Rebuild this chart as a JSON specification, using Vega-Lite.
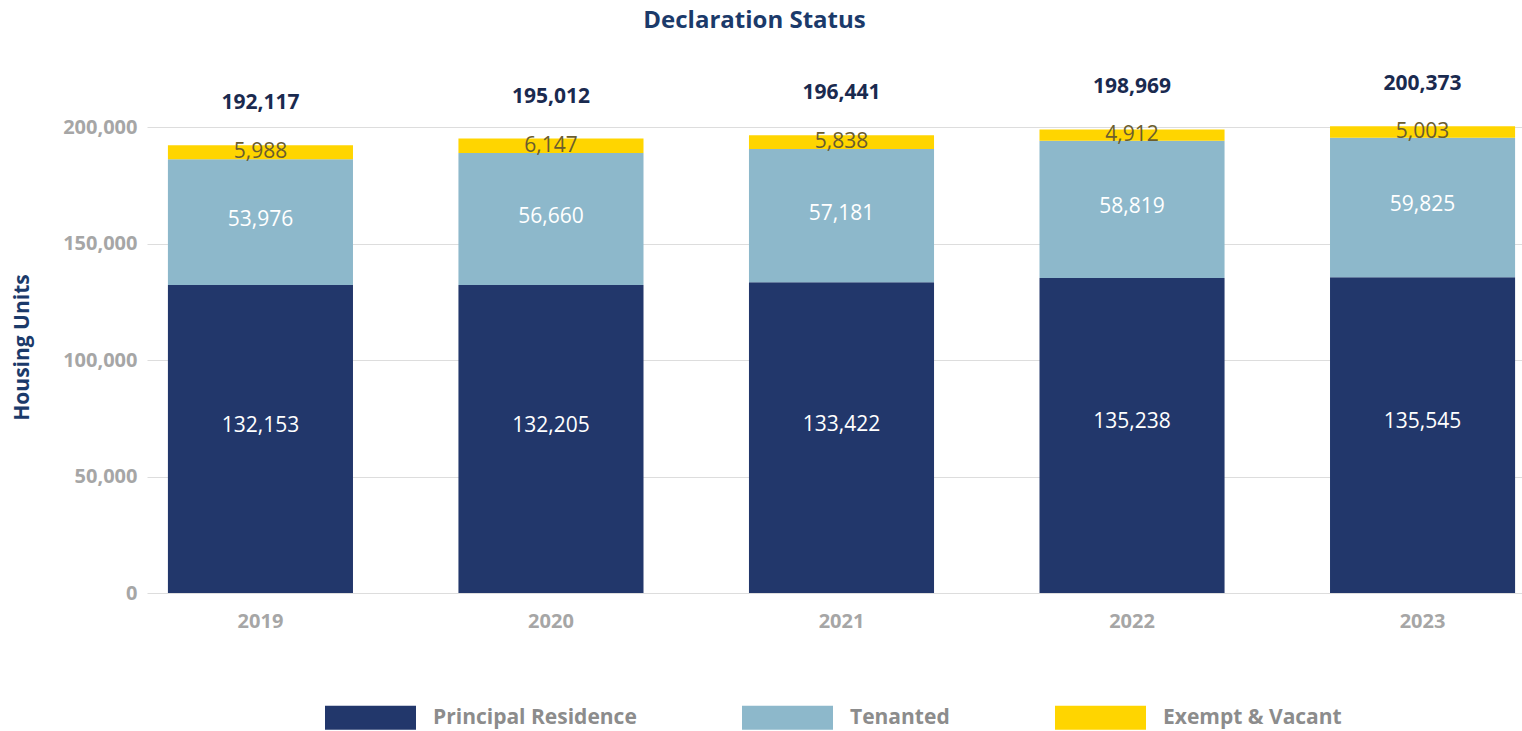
{
  "$schema": "https://vega.github.io/schema/vega-lite/v6.json",
  "autosize": {"type": "none"},
  "padding": {"left": 147, "top": 127, "right": 0, "bottom": 138},
  "width": 1375,
  "height": 466,
  "background": "white",
  "config": {"font": "Open Sans", "view": {"stroke": null}},
  "title": {"text": "Declaration Status", "fontSize": 24, "fontWeight": "bold", "color": "#1b3a6a", "anchor": "middle", "frame": "group", "dx": -80, "offset": 40},
  "data": {"values": [
    {"year": "2019", "status": "Principal Residence", "value": 132153},
    {"year": "2019", "status": "Tenanted", "value": 53976},
    {"year": "2019", "status": "Exempt & Vacant", "value": 5988},
    {"year": "2020", "status": "Principal Residence", "value": 132205},
    {"year": "2020", "status": "Tenanted", "value": 56660},
    {"year": "2020", "status": "Exempt & Vacant", "value": 6147},
    {"year": "2021", "status": "Principal Residence", "value": 133422},
    {"year": "2021", "status": "Tenanted", "value": 57181},
    {"year": "2021", "status": "Exempt & Vacant", "value": 5838},
    {"year": "2022", "status": "Principal Residence", "value": 135238},
    {"year": "2022", "status": "Tenanted", "value": 58819},
    {"year": "2022", "status": "Exempt & Vacant", "value": 4912},
    {"year": "2023", "status": "Principal Residence", "value": 135545},
    {"year": "2023", "status": "Tenanted", "value": 59825},
    {"year": "2023", "status": "Exempt & Vacant", "value": 5003}
  ]},
  "transform": [
    {"calculate": "indexof(['Principal Residence','Tenanted','Exempt & Vacant'], datum.status)", "as": "ord"},
    {"stack": "value", "groupby": ["year"], "sort": [{"field": "ord", "order": "ascending"}], "as": ["s0", "s1"]},
    {"calculate": "(datum.s0 + datum.s1) / 2", "as": "mid"}
  ],
  "encoding": {
    "x": {
      "field": "year", "type": "nominal", "title": null,
      "scale": {"range": [0, 1389], "paddingInner": 0.363, "paddingOuter": 0.072},
      "axis": {"labelAngle": 0, "labelColor": "#a6a6a6", "labelFontWeight": "bold", "labelFontSize": 20, "ticks": false, "domain": false, "labelPadding": 18, "grid": false}
    }
  },
  "layer": [
    {
      "mark": {"type": "bar"},
      "encoding": {
        "y": {
          "field": "s1", "type": "quantitative",
          "scale": {"domain": [0, 200000]},
          "title": "Housing Units",
          "axis": {"values": [0, 50000, 100000, 150000, 200000], "format": ",.0f", "labelColor": "#a6a6a6", "labelFontWeight": "bold", "labelFontSize": 20, "ticks": false, "domain": false, "labelPadding": 10, "gridColor": "#dddddd", "titleColor": "#1b3a6a", "titleFontSize": 21, "titleFontWeight": "bold", "titleX": -125, "titleY": 220, "titleAngle": -90, "titleAlign": "center", "titleBaseline": "middle"}
        },
        "y2": {"field": "s0"},
        "color": {
          "field": "status", "type": "nominal",
          "scale": {"domain": ["Principal Residence", "Tenanted", "Exempt & Vacant"], "range": ["#22376b", "#8db8cb", "#ffd500"]},
          "legend": {"title": null, "orient": "none", "direction": "horizontal", "legendX": 178, "legendY": 545, "padding": 0, "symbolType": "M-1,-0.264H1V0.264H-1Z", "symbolSize": 8281, "symbolStrokeWidth": 0, "symbolOpacity": 1, "labelFontSize": 21, "labelFontWeight": "bold", "labelColor": "#8c8c8c", "labelOffset": 17, "labelLimit": 400, "columnPadding": 105}
        }
      }
    },
    {
      "transform": [{"filter": "datum.status === 'Principal Residence'"}],
      "mark": {"type": "text", "color": "white", "fontSize": 21, "dy": -13, "baseline": "middle"},
      "encoding": {
        "y": {"field": "mid", "type": "quantitative", "title": "Housing Units",
          "axis": {"values": [0, 50000, 100000, 150000, 200000], "format": ",.0f", "labelColor": "#a6a6a6", "labelFontWeight": "bold", "labelFontSize": 20, "ticks": false, "domain": false, "labelPadding": 10, "gridColor": "#dddddd", "titleColor": "#1b3a6a", "titleFontSize": 21, "titleFontWeight": "bold", "titleX": -125, "titleY": 220, "titleAngle": -90, "titleAlign": "center", "titleBaseline": "middle"}},
        "text": {"field": "value", "type": "quantitative", "format": ","}}
    },
    {
      "transform": [{"filter": "datum.status === 'Tenanted'"}],
      "mark": {"type": "text", "color": "white", "fontSize": 21, "dy": -2, "baseline": "middle"},
      "encoding": {
        "y": {"field": "mid", "type": "quantitative", "title": "Housing Units",
          "axis": {"values": [0, 50000, 100000, 150000, 200000], "format": ",.0f", "labelColor": "#a6a6a6", "labelFontWeight": "bold", "labelFontSize": 20, "ticks": false, "domain": false, "labelPadding": 10, "gridColor": "#dddddd", "titleColor": "#1b3a6a", "titleFontSize": 21, "titleFontWeight": "bold", "titleX": -125, "titleY": 220, "titleAngle": -90, "titleAlign": "center", "titleBaseline": "middle"}},
        "text": {"field": "value", "type": "quantitative", "format": ","}}
    },
    {
      "transform": [{"filter": "datum.status === 'Exempt & Vacant'"}],
      "mark": {"type": "text", "color": "#6b5d2e", "fontSize": 21, "dy": 0, "baseline": "middle"},
      "encoding": {
        "y": {"field": "mid", "type": "quantitative", "title": "Housing Units",
          "axis": {"values": [0, 50000, 100000, 150000, 200000], "format": ",.0f", "labelColor": "#a6a6a6", "labelFontWeight": "bold", "labelFontSize": 20, "ticks": false, "domain": false, "labelPadding": 10, "gridColor": "#dddddd", "titleColor": "#1b3a6a", "titleFontSize": 21, "titleFontWeight": "bold", "titleX": -125, "titleY": 220, "titleAngle": -90, "titleAlign": "center", "titleBaseline": "middle"}},
        "text": {"field": "value", "type": "quantitative", "format": ","}}
    },
    {
      "transform": [{"aggregate": [{"op": "sum", "field": "value", "as": "total"}], "groupby": ["year"]}],
      "mark": {"type": "text", "color": "#1a2a4f", "fontSize": 21, "fontWeight": "bold", "dy": -42, "baseline": "middle"},
      "encoding": {
        "y": {"field": "total", "type": "quantitative", "title": "Housing Units",
          "axis": {"values": [0, 50000, 100000, 150000, 200000], "format": ",.0f", "labelColor": "#a6a6a6", "labelFontWeight": "bold", "labelFontSize": 20, "ticks": false, "domain": false, "labelPadding": 10, "gridColor": "#dddddd", "titleColor": "#1b3a6a", "titleFontSize": 21, "titleFontWeight": "bold", "titleX": -125, "titleY": 220, "titleAngle": -90, "titleAlign": "center", "titleBaseline": "middle"}},
        "text": {"field": "total", "type": "quantitative", "format": ","}}
    }
  ]
}
